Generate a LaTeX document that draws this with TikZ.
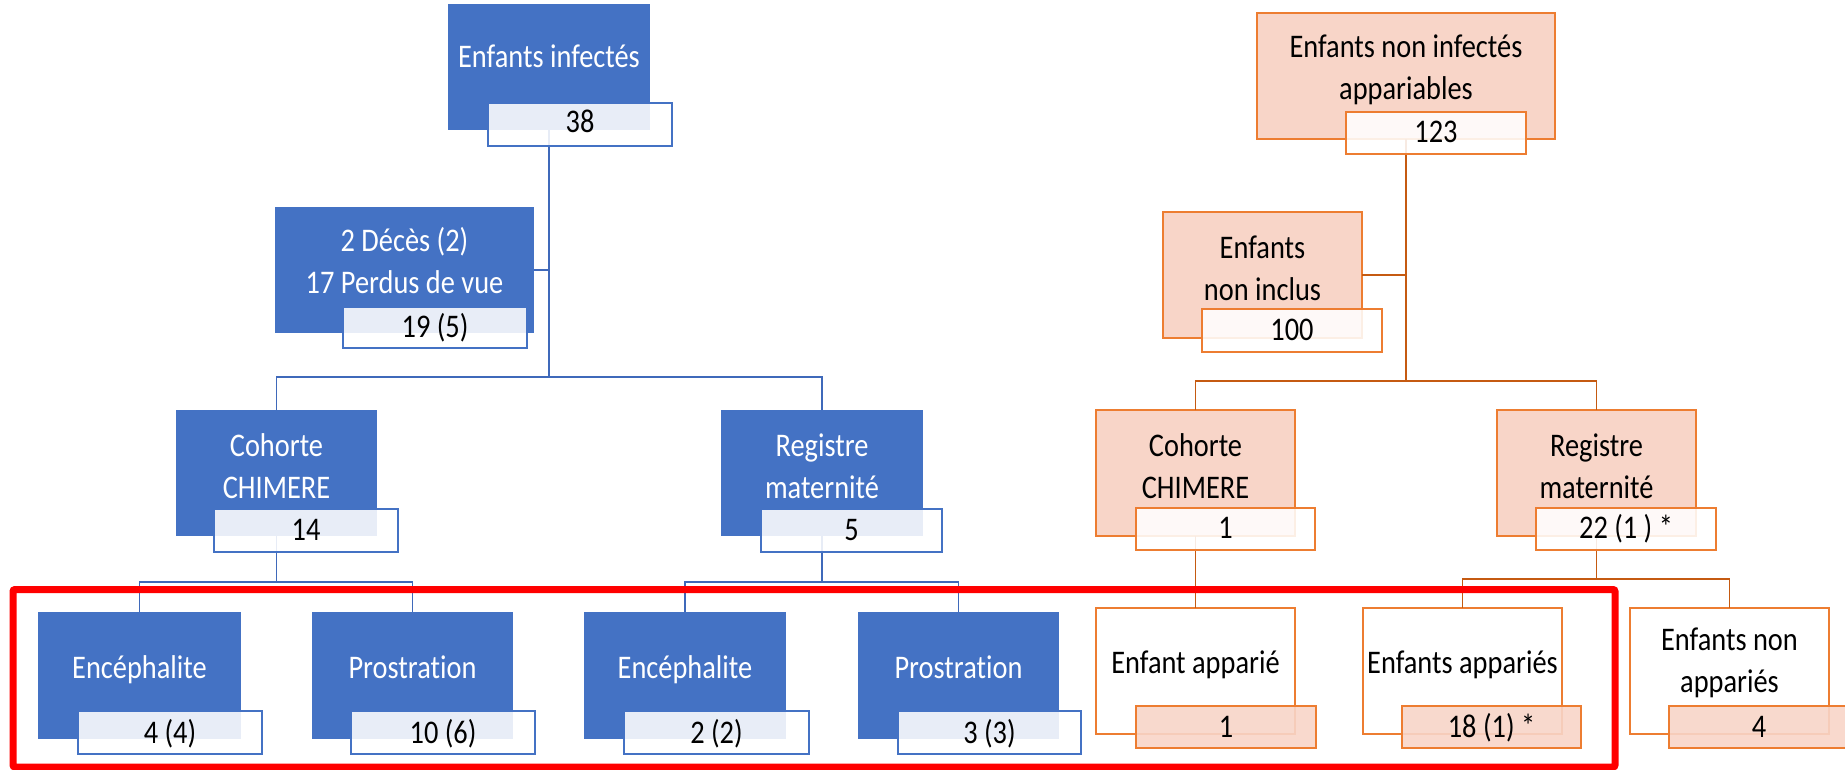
\documentclass[tikz,border=0pt]{standalone}
\usepackage{fontspec}
\setmainfont{Carlito}[FakeStretch=0.86, Ligatures=NoCommon]
\definecolor{cblue}{HTML}{4472C4}
\definecolor{cbconn}{HTML}{3F69BA}
\definecolor{corfill}{HTML}{F8D5C8}
\definecolor{corline}{HTML}{ED7D31}
\definecolor{corconn}{HTML}{C55A11}
\newcommand\bx[6]{\node[#2, minimum width={(#5-#3)*1pt}, minimum height={(#6-#4)*1pt}, anchor=north west] (#1) at (#3,#4) {};}
\tikzset{
  boxbase/.style={rectangle, inner sep=0pt, outer sep=0pt},
  bmain/.style={boxbase, fill=cblue},
  bcount/.style={boxbase, fill=white, fill opacity=0.88, draw=cblue, draw opacity=1, line width=1.5pt},
  omain/.style={boxbase, fill=corfill, draw=corline, line width=1.8pt},
  ocount/.style={boxbase, fill=white, fill opacity=0.88, draw=corline, draw opacity=1, line width=1.8pt},
  owhite/.style={boxbase, fill=white, draw=corline, line width=1.8pt},
  ofcount/.style={boxbase, fill=corfill, fill opacity=0.9, draw=corline, draw opacity=1, line width=1.8pt},
  txt/.style={inner sep=0pt, outer sep=0pt, font=\fontsize{33}{42}\selectfont, align=center, anchor=base},
  wtxt/.style={txt, text=white},
  ktxt/.style={txt, text=black},
  bconn/.style={draw=cbconn, line width=1.5pt},
  oconn/.style={draw=corconn, line width=1.8pt},
  redframe/.style={draw=red, line width=7pt, rounded corners=2pt}
}
\begin{document}
\begin{tikzpicture}[x=1pt,y=-1pt]
\useasboundingbox (0,0) rectangle (1845,770);

% ---------- junction coordinates
\coordinate (bj1) at (549,377);
\coordinate (bj2) at (276.5,582);
\coordinate (bj3) at (822,582);
\coordinate (oj1) at (1406,381);
\coordinate (oj2) at (1596.5,579);

% ---------- main boxes (blue)
\bx{inf}{bmain}{448}{4}{650}{130}
\bx{dec}{bmain}{275}{207}{534}{333}
\bx{coh}{bmain}{176}{410}{377}{536}
\bx{breg}{bmain}{721}{410}{923}{536}
\bx{enca}{bmain}{38}{612}{241}{739}
\bx{proa}{bmain}{312}{612}{513}{739}
\bx{encb}{bmain}{584}{612}{786}{739}
\bx{prob}{bmain}{858}{612}{1059}{739}

% ---------- main boxes (orange)
\bx{ninf}{omain}{1257}{13}{1555}{139}
\bx{nincl}{omain}{1163}{212}{1362}{338}
\bx{ocoh}{omain}{1096}{410}{1295}{536}
\bx{oreg}{omain}{1497}{410}{1696}{536}
\bx{appa}{owhite}{1096}{608}{1295}{734}
\bx{appb}{owhite}{1363}{608}{1562}{734}
\bx{napp}{owhite}{1630}{608}{1829}{734}

% ---------- connectors (drawn before count boxes)
\path[bconn] (inf.south) -- (bj1);
\path[bconn] (dec.east) -- (dec.east -| bj1);
\path[bconn] (coh.north) |- (bj1) -| (breg.north);
\path[bconn] (coh.south) -- (bj2);
\path[bconn] (enca.north) |- (bj2) -| (proa.north);
\path[bconn] (breg.south) -- (bj3);
\path[bconn] (encb.north) |- (bj3) -| (prob.north);

\path[oconn] (ninf.south) -- (oj1);
\path[oconn] (nincl.east) -- (nincl.east -| oj1);
\path[oconn] (ocoh.north) |- (oj1) -| (oreg.north);
\path[oconn] (ocoh.south) -- (appa.north);
\path[oconn] (oreg.south) -- (oj2);
\path[oconn] (appb.north) |- (oj2) -| (napp.north);

% ---------- count boxes
\bx{cinf}{bcount}{488}{103}{672}{146}
\bx{cdec}{bcount}{343}{307}{527}{348}
\bx{ccoh}{bcount}{214}{509}{398}{552}
\bx{cbreg}{bcount}{761}{509}{942}{552}
\bx{cenca}{bcount}{78}{711}{262}{754}
\bx{cproa}{bcount}{351}{711}{535}{754}
\bx{cencb}{bcount}{624}{711}{809}{754}
\bx{cprob}{bcount}{898}{711}{1081}{754}

\bx{cninf}{ocount}{1346}{112}{1526}{154}
\bx{cnincl}{ocount}{1202}{309}{1382}{352}
\bx{cocoh}{ocount}{1136}{508}{1315}{550}
\bx{coreg}{ocount}{1536}{508}{1716}{550}
\bx{cappa}{ofcount}{1136}{706}{1316}{748}
\bx{cappb}{ofcount}{1402}{706}{1581}{748}
\bx{cnapp}{ofcount}{1669}{706}{1849}{748}

% ---------- texts (anchor = baseline of last line)
\node[wtxt] (tinf) at (549,68) {Enfants infectés};
\node[ktxt] (tcinf) at (580,133) {38};
\node[wtxt] (tdec) at (404.5,293) {2 Décès (2)\\17 Perdus de vue};
\node[ktxt] (tcdec) at (435,337) {19 (5)};
\node[wtxt] (tcoh) at (276.5,498) {Cohorte\\CHIMERE};
\node[ktxt] (tccoh) at (306,540) {14};
\node[wtxt] (tbreg) at (822,498) {Registre\\maternité};
\node[ktxt] (tcbreg) at (851.5,540) {5};
\node[wtxt] (tenca) at (139.5,678) {Encéphalite};
\node[ktxt] (tcenca) at (170,743) {4 (4)};
\node[wtxt] (tproa) at (412.5,678) {Prostration};
\node[ktxt] (tcproa) at (443,743) {10 (6)};
\node[wtxt] (tencb) at (685,678) {Encéphalite};
\node[ktxt] (tcencb) at (716.5,743) {2 (2)};
\node[wtxt] (tprob) at (958.5,678) {Prostration};
\node[ktxt] (tcprob) at (989.5,743) {3 (3)};

\node[ktxt] (tninf) at (1406,100) {Enfants non infectés\\appariables};
\node[ktxt] (tcninf) at (1436,143) {123};
\node[ktxt] (tnincl) at (1262.5,300) {Enfants\\non inclus};
\node[ktxt] (tcnincl) at (1292,340) {100};
\node[ktxt] (tocoh) at (1195.5,498) {Cohorte\\CHIMERE};
\node[ktxt] (tcocoh) at (1225.5,538) {1};
\node[ktxt] (toreg) at (1596.5,498) {Registre\\maternité};
\node[ktxt] (tcoreg) at (1626,538) {22 (1 ) *};
\node[ktxt] (tappa) at (1195.5,673) {Enfant apparié};
\node[ktxt] (tcappa) at (1226,737) {1};
\node[ktxt] (tappb) at (1462.5,673) {Enfants appariés};
\node[ktxt] (tcappb) at (1491.5,737) {18 (1) *};
\node[ktxt] (tnapp) at (1729.5,692) {Enfants non\\appariés};
\node[ktxt] (tcnapp) at (1759,737) {4};

% ---------- red frame
\draw[redframe] (13,589.5) rectangle (1615,767);
\end{tikzpicture}
\end{document}
